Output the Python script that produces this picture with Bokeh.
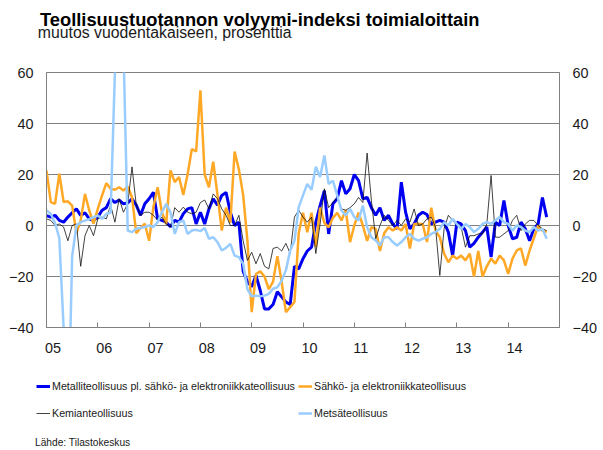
from bokeh.plotting import figure
from bokeh.layouts import column
from bokeh.models import (ColumnDataSource, FixedTicker, LinearAxis, Range1d,
                          Legend, LegendItem, Label)
from bokeh.embed import file_html
from bokeh.resources import INLINE

# ---- data: monthly year-on-year change, %, Jan 2005 .. Oct 2014 ----
metalli = [
    3.9, 3.3, 4, 2, 1.3, 3.3, 5, 6.5, 3.9, 5, 2.6, 2,
    3.3, 6, 7, 10.5, 9, 10, 8.5, 8.8, 10.5, 8, 4, 8.5,
    10.5, 13, 2.6, 2, 1.3, -0.5, 2, 1.3, 4.6, 6.5, 7, 0.6,
    5.2, 0.6, 6.5, 10.5, 8, 11.8, 13, 5.2, 0, 1.3, -18, -22,
    -24, -19.6, -25.5, -32.7, -32.7, -31, -26, -28, -30, -31, -16, -17,
    -13, -10, -8.5, 1.3, 7.8, 13.7, -3.3, 8.5, 10.5, 17.6, 12.4, 14.4,
    20, 17.6, 10.5, 11, 7, 4, 7, 2, 4, 0.6, -1.3, 17,
    5.2, -1.3, 0.6, 4, 5.2, 4.3, 0.6, 1.3, 2, 1.3, -2.6, -11.8,
    1.3, 0.6, -2, -8.5, -7, -4.6, -2.6, -0.6, -12.4, 1.3, 0, 9.8,
    0, -5.2, -4.6, 1.3, -1.3, -6, -1.3, 0.6, 11, 3.3,
]
sahko = [
    21.6, 9.2, 8.5, 20.3, 9.2, 9.5, 7.8, -3, 2, 12.4, 5.9, 0.7,
    6.5, 11.8, 16.6, 14.4, 14, 15, 13.7, 15.3, 11.1, -3, -1, 0.7,
    -6, 7.2, 15, 5.2, 0.6, 21.6, 17, 19, 12, 20, 30, 29,
    53, 20, 15, 25, 12, -2, 7, 1, 29, 22, 12, -6,
    -34, -19, -18, -20, -25, -22, -12, -22, -34, -32, -30, -3,
    5, -2.6, 5, -8.5, 7, 1, -0.7, 3, 5, 2, 6, -6.5,
    0, 5, 0, -6, -0.7, -1.3, -10, -3, -0.7, -2, -0.7, -2,
    0.6, -9, 0.6, 0.6, 0.6, -6.5, 7, -2, -4.6, -11, -14.4, -11.8,
    -13, -11.8, -13.7, -11, -20, -10, -20, -16, -13, -15, -11.8, -13.7,
    -19, -13, -9.8, -9, -15.7, -9.8, -5, 0, -2, -2.6,
]
kemia = [
    2.6, 2, 0, 0.6, -0.6, -6, 0, 0.6, -16, -4, 0, -4,
    2.6, 3.3, 2.6, 8, 1.3, 10.5, 5.2, 8.5, 23, 8, 4, 5.2,
    5.2, 4, 2, 3.3, 0.6, -0.6, 7, 5.2, 7.2, 5.2, 4.6, 5.2,
    9, 10, 6.5, 12.4, 10.5, 6.5, 4, 0, 0, 4, -6, -13.7,
    -10.5, -15, -11, -16, -17, -9, -8.5, -10, -7, -11, 3.3, 6,
    3.3, 1.3, 3.3, -11, 0.6, 14.4, 7, 9, 11, 6.5, 6, 7,
    8.5, 11, 9, 28.4, 9.8, -5.2, 0, 4, 2, 0, 2, 0,
    2.6, 1.3, 6.5, 0, 0.6, 2.6, 3.3, -0.6, -19.6, -1.3, 4, 2,
    0, -0.6, -8.5, -4, -4, -3.3, -3.3, 0.6, 19.6, -4.6, -4.6, -3.3,
    -2, 2, 4, -2, 0.6, 2, 2, 0, -1.3, -2,
]
metsa = [
    5.9, 4.6, 1, -5, -40, -85, -12, 0, 1.3, 1.9, 2.5, 3.3,
    3.9, 2.6, 4.6, 5, 60, 100, 70, -2, -2.6, -1.3, -1, -0.6,
    0, -0.6, 1.3, 5.2, 8.5, 5.2, -3.3, 1.3, 2, -3.3, -2, -1.7,
    -2.2, -1, -5.2, -4.6, -6.5, -9.8, -8.8, -7.2, -11.8, -12.4, -15, -25,
    -27.8, -27.5, -27.8, -27.5, -26.8, -24.8, -24.2, -21.6, -17.6, -9.8, -6, 7.2,
    11.8, 16.3, 14, 23, 19, 27.5, 16.3, 17.6, 11.8, 5.9, 4, 6.5,
    3.3, 2, 7.8, -0.7, -4.6, -5.9, -7.8, -4.6, -4.6, -6.5, -7.8, -6.5,
    -4.6, -3.3, -5.2, -5.9, -5.2, -4.6, -3.3, -2.6, -1.3, 1.3, 0, 2.6,
    0.6, -1.3, 0.6, -0.6, -2.6, -1.3, 0.6, 1.3, 0.6, 2, 3.3, 1.3,
    0.6, -2, 0, -0.6, -2, -2.6, -0.6, -2, -1.3, -5.2,
]
month_index = list(range(len(metalli)))          # months since Jan 2005
year_labels = ["05", "06", "07", "08", "09", "10", "11", "12", "13", "14"]
y_ticks = [-40, -20, 0, 20, 40, 60]

title_text = "Teollisuustuotannon volyymi-indeksi toimialoittain"
subtitle_text = "muutos vuodentakaiseen, prosenttia"
source_text = "Lähde: Tilastokeskus"
names = {
    "metalli": "Metalliteollisuus pl. sähkö- ja elektroniikkateollisuus",
    "sahko": "Sähkö- ja elektroniikkateollisuus",
    "kemia": "Kemianteollisuus",
    "metsa": "Metsäteollisuus",
}
styles = {
    "metalli": dict(line_color="#0000f0", line_width=3),
    "sahko": dict(line_color="#ffa826", line_width=2.5),
    "kemia": dict(line_color="#111111", line_width=0.8),
    "metsa": dict(line_color="#99ccff", line_width=2.5),
}

FONT = "Liberation Sans"
GRAY = "#808080"
TXT = "#1a1a1a"
W = 603


def no_align(f):
    try:
        f.frame_align = False
    except Exception:
        pass


def blank(height, yr=(0, 1)):
    f = figure(width=W, height=height, output_backend="svg", toolbar_location=None,
               x_range=Range1d(0, 1), y_range=Range1d(*yr),
               x_axis_type=None, y_axis_type=None,
               min_border=0, min_border_left=0, min_border_right=0,
               min_border_top=0, min_border_bottom=0)
    f.outline_line_color = None
    f.xgrid.visible = False
    f.ygrid.visible = False
    f.border_fill_color = "white"
    f.background_fill_color = "white"
    no_align(f)
    return f


src = ColumnDataSource(dict(x=month_index, metalli=metalli, sahko=sahko,
                            kemia=kemia, metsa=metsa))

# ---------------- header ----------------
HEAD_H = 60
head = blank(HEAD_H)
head.add_layout(Label(x=39.5, y=41.5, x_units="screen", y_units="screen",
                      text=title_text, text_font=FONT, text_font_size="18.3px",
                      text_font_style="bold", text_color="black",
                      text_baseline="alphabetic"))
head.add_layout(Label(x=37.3, y=28, x_units="screen", y_units="screen",
                      text=subtitle_text, text_font=FONT, text_font_size="15.8px",
                      text_color=TXT, text_baseline="alphabetic"))

# ---------------- main plot ----------------
MAIN_H = 303
p = figure(width=W, height=MAIN_H, output_backend="svg", toolbar_location=None,
           x_range=Range1d(0, 120), y_range=Range1d(-40, 60),
           min_border_left=46, min_border_right=44, min_border_top=12,
           min_border_bottom=MAIN_H - 12 - 255)
no_align(p)
p.outline_line_color = GRAY
p.background_fill_color = "white"
p.border_fill_color = "white"

label_pos = [12 * i + 1.5 for i in range(len(year_labels))]
p.xaxis.ticker = FixedTicker(ticks=label_pos,
                             minor_ticks=[12 * i for i in range(1, 10)])
p.xaxis.major_label_overrides = {pos: lab for pos, lab in zip(label_pos, year_labels)}
p.xaxis.major_tick_line_color = None
p.xaxis.major_tick_in = 0
p.xaxis.major_tick_out = 0
p.xaxis.minor_tick_line_color = GRAY
p.xaxis.minor_tick_in = 5
p.xaxis.minor_tick_out = 0
p.xaxis.axis_line_color = GRAY
p.xaxis.major_label_standoff = 15
p.xaxis.major_label_text_font = FONT
p.xaxis.major_label_text_font_size = "14.4px"
p.xaxis.major_label_text_color = TXT


def style_y(ax):
    ax.ticker = FixedTicker(ticks=y_ticks)
    ax.major_tick_line_color = None
    ax.major_tick_in = 0
    ax.major_tick_out = 0
    ax.minor_tick_line_color = None
    ax.axis_line_color = GRAY
    ax.major_label_standoff = 13
    ax.major_label_text_font = FONT
    ax.major_label_text_font_size = "14.4px"
    ax.major_label_text_color = TXT


style_y(p.yaxis[0])
right_axis = LinearAxis()
style_y(right_axis)
p.add_layout(right_axis, "right")

p.xgrid.visible = False
p.ygrid.ticker = FixedTicker(ticks=[-20, 0, 20, 40])
p.ygrid.grid_line_color = GRAY
p.ygrid.grid_line_width = 1

for key in ["metalli", "sahko", "kemia", "metsa"]:
    p.line("x", key, source=src, **styles[key])

# ---------------- footer: legend + source ----------------
FOOT_H = 450 - HEAD_H - MAIN_H
# the same series, drawn outside this strip's visible range, give the legend its swatches
foot = blank(FOOT_H, yr=(1000, 1001))
leg_r = {key: foot.line("x", key, source=src, **styles[key]) for key in styles}


def make_legend(keys, x, y):
    return Legend(items=[LegendItem(label=names[k], renderers=[leg_r[k]]) for k in keys],
                  location=(x, y), orientation="vertical",
                  padding=0, margin=0, spacing=13, glyph_height=14, glyph_width=14,
                  label_standoff=2, label_height=14,
                  label_text_font=FONT, label_text_font_size="10.7px",
                  label_text_color=TXT, border_line_color=None,
                  background_fill_alpha=0)


row1_center = 386 - (HEAD_H + MAIN_H)
leg_bottom = row1_center - 7 + 41
foot.add_layout(make_legend(["metalli", "kemia"], 36, FOOT_H - leg_bottom))
foot.add_layout(make_legend(["sahko", "metsa"], 298, FOOT_H - leg_bottom))
foot.add_layout(Label(x=34.5, y=8, x_units="screen",
                      y_units="screen", text=source_text, text_font=FONT,
                      text_font_size="10.2px", text_color=TXT,
                      text_baseline="alphabetic"))

layout = column(head, p, foot, spacing=0)
open("out.html", "w").write(file_html(layout, INLINE))
